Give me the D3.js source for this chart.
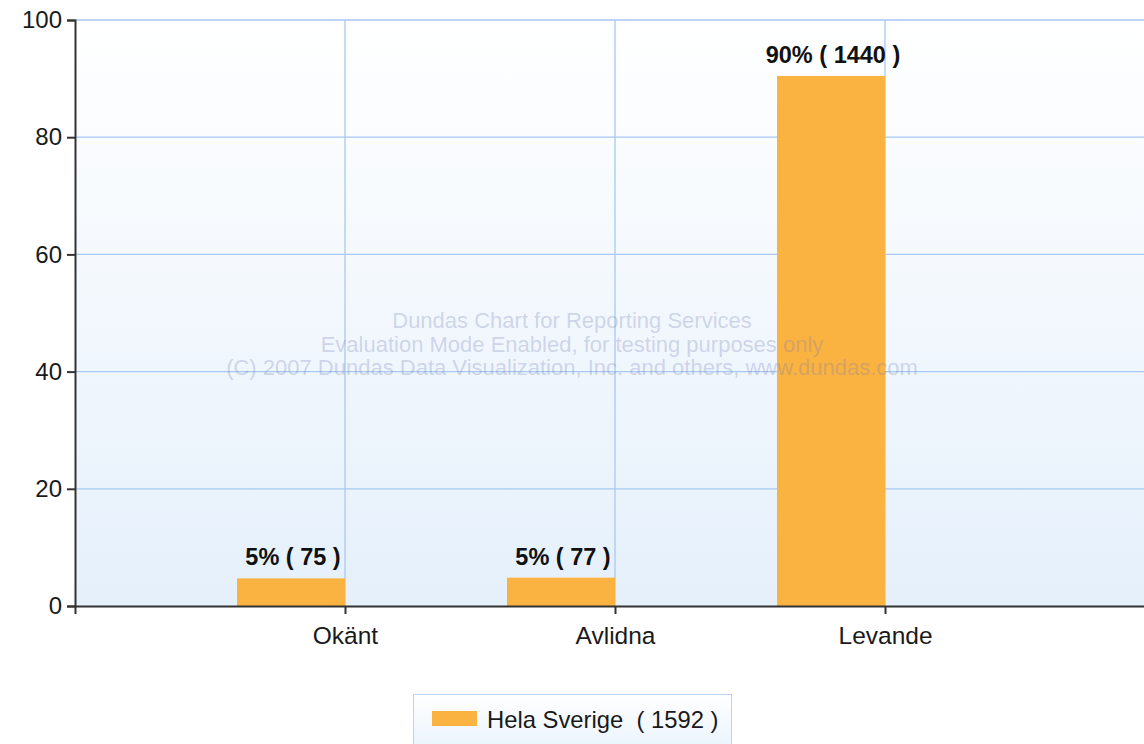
<!DOCTYPE html>
<html><head><meta charset="utf-8">
<script src="https://cdn.jsdelivr.net/npm/d3@7"></script>
<style>html,body{margin:0;padding:0;background:#fff;}svg{display:block;}</style>
</head><body>
<svg id="chart" width="1144" height="744"></svg>
<script>
const categories = ["Okänt", "Avlidna", "Levande"];
const counts = [75, 77, 1440];
const percents = [4.71, 4.84, 90.45];
const pctLabels = ["5%", "5%", "90%"];
const yTicks = [0, 20, 40, 60, 80, 100];
const seriesName = "Hela Sverige";
const total = 1592;
const watermark = ["Dundas Chart for Reporting Services",
  "Evaluation Mode Enabled, for testing purposes only",
  "(C) 2007 Dundas Data Visualization, Inc. and others, www.dundas.com"];

(function(){
const svg = d3.select("#chart");
const font = "'Liberation Sans', Arial, sans-serif";
const pLeft = 75, pRight = 1155, pTop = 20, pBottom = 606;
const x = d3.scaleLinear().domain([-1, 3]).range([pLeft, pRight]);
const y = d3.scaleLinear().domain([0, 100]).range([pBottom, pTop]);
const step = x(1) - x(0);

const defs = svg.append("defs");
const g1 = defs.append("linearGradient").attr("id","bg").attr("x1",0).attr("y1",0).attr("x2",0).attr("y2",1);
g1.append("stop").attr("offset","0%").attr("stop-color","#ffffff");
g1.append("stop").attr("offset","100%").attr("stop-color","#e5f0fb");
const g2 = defs.append("linearGradient").attr("id","lg").attr("x1",0).attr("y1",0).attr("x2",0).attr("y2",1);
g2.append("stop").attr("offset","0%").attr("stop-color","#ffffff");
g2.append("stop").attr("offset","100%").attr("stop-color","#e8f2fc");

svg.append("rect").attr("x", pLeft).attr("y", pTop).attr("width", pRight-pLeft).attr("height", pBottom-pTop).attr("fill","url(#bg)");

// gridlines
svg.append("g").selectAll("line").data(yTicks.slice(1)).join("line")
  .attr("x1", pLeft).attr("x2", pRight).attr("y1", d=>y(d)).attr("y2", d=>y(d))
  .attr("stroke","#a9c8f2").attr("stroke-width",1.3);
svg.append("g").selectAll("line").data(categories).join("line")
  .attr("x1", (d,i)=>x(i)).attr("x2", (d,i)=>x(i)).attr("y1", pTop).attr("y2", pBottom)
  .attr("stroke","#a9c8f2").attr("stroke-width",1.3);

// bars
svg.append("g").selectAll("rect").data(percents).join("rect")
  .attr("x", (d,i)=>x(i) - step*0.4).attr("width", step*0.4)
  .attr("y", d=>y(d)).attr("height", d=>y(0)-y(d))
  .attr("fill","#fab240");

// bar labels
svg.append("g").selectAll("text").data(percents).join("text")
  .attr("x", (d,i)=>x(i) - step*0.2 + 2).attr("y", d=>y(d) - 13)
  .attr("text-anchor","middle").attr("font-family",font)
  .attr("font-weight","bold").attr("font-size",23.5).attr("fill","#111")
  .text((d,i)=>`${pctLabels[i]} ( ${counts[i]} )`);

// axes
const yAxis = d3.axisLeft(y).tickValues(yTicks).tickSize(8).tickSizeOuter(8).tickPadding(5);
const ya = svg.append("g").attr("transform",`translate(${pLeft},0)`).call(yAxis);
ya.select(".domain").attr("stroke","#333").attr("stroke-width",2);
ya.selectAll(".tick line").attr("stroke","#333").attr("stroke-width",2);
ya.selectAll(".tick text").attr("font-family",font).attr("font-size",24).attr("fill","#1a1a1a");

const xAxis = d3.axisBottom(x).tickValues([0,1,2]).tickFormat(i=>categories[i]).tickSize(8).tickSizeOuter(8).tickPadding(13);
const xa = svg.append("g").attr("transform",`translate(0,${pBottom})`).call(xAxis);
xa.select(".domain").attr("stroke","#333").attr("stroke-width",2);
xa.selectAll(".tick line").attr("stroke","#333").attr("stroke-width",2);
xa.selectAll(".tick text").attr("font-family",font).attr("font-size",24.5).attr("fill","#1a1a1a");

// watermark (drawn over the plot, translucent)
svg.append("g").selectAll("text").data(watermark).join("text")
  .attr("x", 572).attr("y", (d,i)=>328 + i*23.5)
  .attr("text-anchor","middle").attr("font-family",font).attr("font-size",22)
  .attr("fill","#7880b8").attr("fill-opacity",0.3).text(d=>d);

// legend
const lg = svg.append("g");
lg.append("rect").attr("x",413.5).attr("y",694.5).attr("width",318).attr("height",60)
  .attr("fill","url(#lg)").attr("stroke","#b8d3f4").attr("stroke-width",1);
lg.append("rect").attr("x",432).attr("y",711).attr("width",45).attr("height",15).attr("fill","#fab240");
lg.append("text").attr("x",487).attr("y",728).attr("font-family",font).attr("font-size",23.8).attr("fill","#1a1a1a")
  .attr("xml:space","preserve").text(`${seriesName}  ( ${total} )`);
})();
</script>
</body></html>
